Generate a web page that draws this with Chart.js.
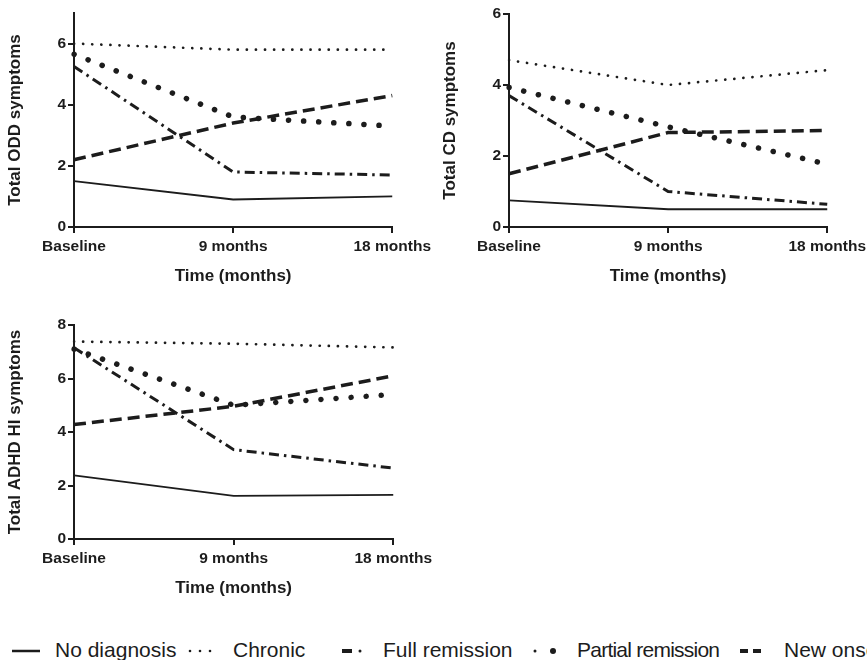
<!DOCTYPE html>
<html>
<head>
<meta charset="utf-8">
<script src="https://cdn.jsdelivr.net/npm/chart.js@4"></script>
<style>
  html, body { margin: 0; padding: 0; background: #fff; }
  body { width: 867px; height: 660px; position: relative; overflow: hidden; }
  .box { position: absolute; }
  #legend { position: absolute; left: 0; top: 620px; }
</style>
</head>
<body>
<div class="box" style="left:0;top:0;width:435px;height:290px"><canvas id="c1"></canvas></div>
<div class="box" style="left:435px;top:0;width:435px;height:290px"><canvas id="c2"></canvas></div>
<div class="box" style="left:0;top:312px;width:436px;height:290px"><canvas id="c3"></canvas></div>
<svg id="legend" width="867" height="40" xmlns="http://www.w3.org/2000/svg"></svg>
<script>
// ---- data ----
const categories = ['Baseline', '9 months', '18 months'];
const seriesNames = ['No diagnosis', 'Chronic', 'Full remission', 'Partial remission', 'New onset'];
const xTitle = 'Time (months)';

const oddTitle = 'Total ODD symptoms';
const oddNoDiagnosis = [1.5, 0.9, 1.0];
const oddChronic = [6.0, 5.8, 5.8];
const oddFullRemission = [5.25, 1.8, 1.7];
const oddPartialRemission = [5.65, 3.6, 3.3];
const oddNewOnset = [2.2, 3.4, 4.3];
const oddTicks = [0, 2, 4, 6];

const cdTitle = 'Total CD symptoms';
const cdNoDiagnosis = [0.75, 0.5, 0.5];
const cdChronic = [4.7, 4.0, 4.42];
const cdFullRemission = [3.7, 1.0, 0.64];
const cdPartialRemission = [3.93, 2.82, 1.77];
const cdNewOnset = [1.5, 2.66, 2.72];
const cdTicks = [0, 2, 4, 6];

const adhdTitle = 'Total ADHD HI symptoms';
const adhdNoDiagnosis = [2.38, 1.61, 1.65];
const adhdChronic = [7.38, 7.3, 7.16];
const adhdFullRemission = [7.15, 3.34, 2.65];
const adhdPartialRemission = [7.1, 5.0, 5.4];
const adhdNewOnset = [4.28, 4.96, 6.1];
const adhdTicks = [0, 2, 4, 6, 8];

// ---- styles ----
const INK = '#1c1c1c';
const lineStyles = [
  { borderWidth: 1.8, borderDash: [], borderCapStyle: 'butt' },
  { borderWidth: 2.7, borderDash: [0.1, 9], borderCapStyle: 'round' },
  { borderWidth: 3, borderDash: [10, 5, 2.5, 5], borderCapStyle: 'butt' },
  { borderWidth: 5.5, borderDash: [0.1, 15], borderCapStyle: 'round' },
  { borderWidth: 3.5, borderDash: [12, 6], borderCapStyle: 'butt' }
];

function makeChart(id, title, series, ticks, yMax, padTop) {
  const datasets = series.map((d, i) => Object.assign({
    label: seriesNames[i],
    data: d,
    borderColor: INK,
    backgroundColor: INK,
    pointRadius: 0,
    tension: 0,
    fill: false
  }, lineStyles[i]));
  return new Chart(document.getElementById(id), {
    type: 'line',
    data: { labels: categories, datasets },
    options: {
      responsive: true,
      maintainAspectRatio: false,
      animation: false,
      layout: { padding: { top: padTop, left: 0, right: 0, bottom: 0 } },
      plugins: { legend: { display: false }, tooltip: { enabled: false } },
      scales: {
        x: {
          offset: false,
          grid: { display: true, drawOnChartArea: false, drawTicks: true, tickLength: 6, color: INK, lineWidth: 2 },
          border: { display: true, color: INK, width: 2 },
          ticks: { color: INK, padding: 4, maxRotation: 0, autoSkip: false, font: { family: 'Liberation Sans, Arial, sans-serif', size: 15.5, weight: 'bold' } },
          title: { display: true, text: xTitle, color: INK, padding: { top: 4, bottom: 3 }, font: { family: 'Liberation Sans, Arial, sans-serif', size: 17, weight: 'bold' } },
          afterFit: s => { s.height = 63; }
        },
        y: {
          min: 0,
          max: yMax,
          afterBuildTicks: s => { s.ticks = ticks.map(v => ({ value: v })); },
          grid: { display: true, drawOnChartArea: false, drawTicks: true, tickLength: 6, color: INK, lineWidth: 2 },
          border: { display: true, color: INK, width: 2 },
          ticks: { color: INK, padding: 2, font: { family: 'Liberation Sans, Arial, sans-serif', size: 15.5, weight: 'bold' } },
          title: { display: true, text: title, color: INK, padding: { top: 5, bottom: 2 }, font: { family: 'Liberation Sans, Arial, sans-serif', size: 17, weight: 'bold' } },
          afterFit: s => { s.width = 74; }
        }
      }
    }
  });
}

makeChart('c1', oddTitle, [oddNoDiagnosis, oddChronic, oddFullRemission, oddPartialRemission, oddNewOnset], oddTicks, 7, 13);
makeChart('c2', cdTitle, [cdNoDiagnosis, cdChronic, cdFullRemission, cdPartialRemission, cdNewOnset], cdTicks, 6, 14);
makeChart('c3', adhdTitle, [adhdNoDiagnosis, adhdChronic, adhdFullRemission, adhdPartialRemission, adhdNewOnset], adhdTicks, 8, 13);

// ---- legend ----
const NS = 'http://www.w3.org/2000/svg';
const svg = document.getElementById('legend');
function el(tag, attrs) { const e = document.createElementNS(NS, tag); for (const k in attrs) e.setAttribute(k, attrs[k]); svg.appendChild(e); return e; }
const symY = 31;
// No diagnosis
el('line', { x1: 12, y1: symY, x2: 40, y2: symY, stroke: INK, 'stroke-width': 2.5 });
// Chronic
[190, 200, 210].forEach(x => el('circle', { cx: x, cy: symY, r: 1.3, fill: INK }));
// Full remission
el('line', { x1: 342, y1: symY, x2: 352, y2: symY, stroke: INK, 'stroke-width': 4 });
el('circle', { cx: 360, cy: symY, r: 1.5, fill: INK });
// Partial remission
el('circle', { cx: 535, cy: symY, r: 1.5, fill: INK });
el('circle', { cx: 553, cy: symY, r: 3, fill: INK });
// New onset
el('line', { x1: 740, y1: symY, x2: 748, y2: symY, stroke: INK, 'stroke-width': 4 });
el('line', { x1: 753, y1: symY, x2: 761, y2: symY, stroke: INK, 'stroke-width': 4 });
const textX = [55, 233, 383, 577, 784];
seriesNames.forEach((n, i) => {
  const t = el('text', { x: textX[i], y: 37, fill: INK, 'font-family': 'Liberation Sans, Arial, sans-serif', 'font-size': 21 });
  if (i === 3) t.setAttribute('textLength', 143);
  t.textContent = n;
});
</script>
</body>
</html>
